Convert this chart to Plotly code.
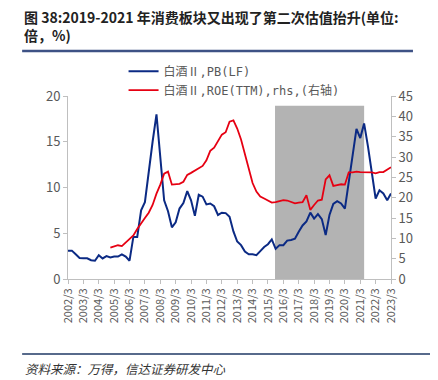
import plotly.graph_objects as go
import pandas as pd

# Quarterly dates 2002/3 .. 2023/3
dates = pd.date_range("2002-03-31", "2023-03-31", freq="QE")

pb_values = [3.1, 3.1, 2.7, 2.3, 2.26, 2.26, 2.05, 2.0, 2.6, 2.25,
             2.5, 2.35, 2.45, 2.45, 2.7, 2.45, 2.0, 4.6, 4.6, 7.5,
             8.4, 12.0, 15.0, 18.0, 13.0, 8.6, 7.4, 5.65, 6.2, 7.7,
             8.3, 9.6, 8.6, 6.9, 9.2, 9.0, 8.15, 8.25, 7.95, 7.0,
             7.25, 7.2, 6.8, 5.2, 4.1, 3.7, 3.0, 2.7, 2.7, 2.6,
             3.05, 3.5, 3.8, 4.33, 3.3, 3.7, 3.7, 4.2, 4.26, 4.4,
             5.17, 5.85, 6.3, 7.25, 6.6, 7.1, 6.55, 4.8, 7.0, 8.2,
             8.5, 8.25, 7.7, 10.5, 13.8, 16.4, 15.4, 17.0, 14.5, 11.8,
             8.8, 9.7, 9.35, 8.6, 9.35]

roe_values = [None] * 11 + [
    7.7, 8.0, 8.3, 8.1, 8.9, 9.7, 10.7, 12.3, 13.8,
    15.0, 16.3, 18.2, 21.0, 23.2, 25.9, 26.4, 23.2, 23.3, 23.4,
    23.9, 25.6, 26.1, 26.6, 27.1, 27.8, 29.2, 31.5, 32.3, 34.0,
    35.5, 36.1, 38.7, 39.0, 37.0, 34.3, 30.5, 26.6, 23.6, 21.5,
    20.3, 19.8, 19.2, 18.8, 18.9, 19.2, 19.4, 19.3, 19.0, 18.6,
    18.8, 18.9, 20.6, 17.0, 18.2, 19.3, 19.5, 24.5, 25.5, 22.9,
    23.1, 23.3, 23.2, 26.2, 26.2, 26.4, 26.3, 26.3, 26.3, 26.2,
    26.0, 26.3, 26.3, 26.8, 27.5]

tick_years = list(range(2002, 2024))
tick_vals = [f"{y}-03-31" for y in tick_years]
tick_text = [f"{y}/3" for y in tick_years]

shade_start = "2015-09-15"
shade_end = "2021-07-01"
shade_top = 42.6

series_names = ["白酒Ⅱ,PB(LF)", "白酒Ⅱ,ROE(TTM),rhs,(右轴)"]
title_text = "图 38:2019-2021 年消费板块又出现了第二次估值抬升(单位:<br>倍，%)"
source_text = "资料来源：万得，信达证券研发中心"

font_family = "Noto Sans CJK SC, Noto Sans, sans-serif"
legend_family = "DejaVu Sans Mono, Noto Sans CJK SC, monospace"
gray = "#595959"

fig = go.Figure()
fig.add_trace(go.Scatter(x=dates, y=pb_values, name=series_names[0], mode="lines",
                         line=dict(color="#0B2A84", width=2)))
fig.add_trace(go.Scatter(x=dates, y=roe_values, name=series_names[1], mode="lines",
                         line=dict(color="#E60012", width=1.8), yaxis="y2"))

fig.add_shape(type="rect", xref="x", yref="y2", x0=shade_start, x1=shade_end,
              y0=0, y1=shade_top, fillcolor="#B3B3B3", line=dict(width=0), layer="below")

# decorative rules
fig.add_shape(type="line", xref="paper", yref="paper", x0=-0.142, x1=1.068,
              y0=1.246, y1=1.246, line=dict(color="#3E5285", width=2.5))
fig.add_shape(type="line", xref="paper", yref="paper", x0=-0.142, x1=1.127,
              y0=-0.410, y1=-0.410, line=dict(color="#1F3864", width=1.5))

fig.add_annotation(xref="paper", yref="paper", x=-0.142, y=1.495, xanchor="left", yanchor="top",
                   text=f"<b>{title_text}</b>", showarrow=False, align="left",
                   font=dict(family=font_family, size=14, color="#222222"))
fig.add_annotation(xref="paper", yref="paper", x=-0.139, y=-0.425, xanchor="left", yanchor="top",
                   text=f"<i>{source_text}</i>", showarrow=False, align="left",
                   font=dict(family=font_family, size=12.5, color="#333333"))

fig.update_layout(
    width=430, height=372,
    margin=dict(l=60, r=47, t=88, b=101),
    paper_bgcolor="white", plot_bgcolor="white",
    font=dict(family=font_family, color=gray),
    showlegend=True,
    legend=dict(x=0.172, y=1.215, xanchor="left", yanchor="top",
                font=dict(family=legend_family, size=12, color=gray), bgcolor="rgba(0,0,0,0)",
                itemwidth=30, tracegroupgap=0),
    xaxis=dict(type="date", range=["2002-03-31", "2023-03-31"],
               tickmode="array", tickvals=tick_vals, ticktext=tick_text,
               tickangle=-90, tickfont=dict(size=11, color=gray),
               showline=True, linecolor="#BFBFBF", linewidth=1,
               ticks="outside", ticklen=4, tickcolor="#BFBFBF",
               showgrid=False, zeroline=False, automargin=False),
    yaxis=dict(range=[0, 20], tickvals=[0, 5, 10, 15, 20],
               tickfont=dict(size=13, color=gray),
               showline=True, linecolor="#BFBFBF", linewidth=1,
               ticks="outside", ticklen=4, tickcolor="#BFBFBF",
               showgrid=False, zeroline=False, automargin=False),
    yaxis2=dict(range=[0, 45], tickvals=list(range(0, 50, 5)), overlaying="y", side="right",
                tickfont=dict(size=13, color=gray),
                showline=True, linecolor="#BFBFBF", linewidth=1,
                ticks="outside", ticklen=4, tickcolor="#BFBFBF",
                showgrid=False, zeroline=False, automargin=False),
)

fig.write_html("out.html")
